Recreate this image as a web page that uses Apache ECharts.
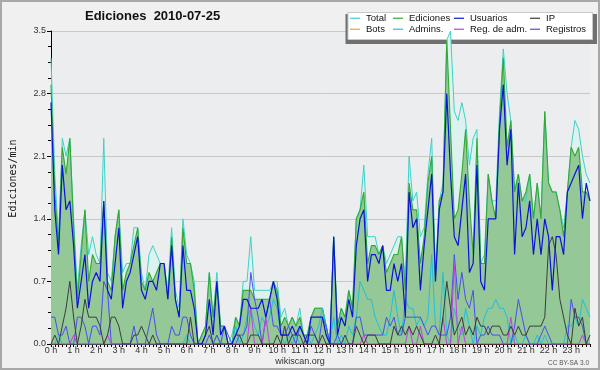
<!DOCTYPE html>
<html>
<head>
<meta charset="utf-8">
<script src="https://cdn.jsdelivr.net/npm/echarts@6/dist/echarts.min.js"></script>
<style>
html,body{margin:0;padding:0;background:#f0f0f0;}
#c{width:600px;height:370px;}
</style>
</head>
<body>
<div id="c"></div>
<script>
// Hour tick labels
const hourLabels = ['0 h','1 h','2 h','3 h','4 h','5 h','6 h','7 h','8 h','9 h','10 h','11 h',
  '12 h','13 h','14 h','15 h','16 h','17 h','18 h','19 h','20 h','21 h','22 h','23 h'];
const yLabels = ['0.0','0.7','1.4','2.1','2.8','3.5'];
// 10-minute slots
const categories = [];
for (let h = 0; h < 24; h++) for (let m = 0; m < 60; m += 10) categories.push(h + ':' + (m < 10 ? '0' + m : m));

const total = [
3.2,1.9,1.2,2.3,2.1,2.3,1.4,0.6,1.1,1.5,
1.0,1.2,1.0,0.9,2.3,0.8,0.7,1.2,1.5,0.8,
0.9,0.9,1.3,1.3,0.8,0.6,1.0,1.1,1.0,0.9,
0.9,0.6,1.3,0.6,0.4,1.4,1.0,0.9,0.7,0.0,
0.1,0.2,0.8,0.3,0.8,0.2,0.2,0.0,0.1,0.3,
0.2,0.7,0.7,1.2,0.6,0.6,0.6,0.6,0.6,0.7,
0.7,0.3,0.4,0.2,0.3,0.2,0.4,0.1,0.1,0.3,
0.4,0.4,0.4,0.2,0.0,1.2,0.2,0.4,0.3,0.6,
0.4,1.4,1.5,2.0,1.2,1.2,1.2,1.0,1.1,0.9,
1.0,1.1,1.2,1.2,0.7,2.1,1.6,1.7,1.2,1.3,
1.9,2.3,0.8,1.6,1.8,3.4,3.5,2.6,2.5,2.7,
2.5,2.0,2.3,2.4,0.9,1.0,1.9,1.6,1.6,2.6,
3.3,2.8,2.5,1.7,1.9,1.6,1.6,1.9,1.4,1.8,
1.4,2.6,1.8,1.7,1.7,1.5,1.3,1.7,2.2,2.5,
2.4,2.1,1.9,1.8];

const ediciones = [
2.9,1.7,1.1,2.2,1.9,2.3,1.3,0.5,1.0,1.5,
0.7,1.0,0.9,0.9,1.6,0.7,0.6,1.2,1.5,0.6,
0.8,0.9,1.1,1.3,0.7,0.6,0.8,0.7,0.8,0.9,
0.9,0.5,1.2,0.5,0.3,1.3,0.9,0.9,0.6,0.0,
0.1,0.2,0.8,0.3,0.7,0.2,0.2,0.0,0.0,0.3,
0.2,0.6,0.6,0.6,0.5,0.5,0.5,0.5,0.5,0.7,
0.6,0.2,0.3,0.2,0.3,0.2,0.3,0.1,0.1,0.3,
0.4,0.4,0.4,0.2,0.0,1.2,0.2,0.4,0.3,0.6,
0.4,1.4,1.5,1.7,0.9,1.1,1.1,1.0,1.1,0.8,
0.9,1.0,1.0,1.2,0.6,1.8,1.5,1.5,0.9,1.2,
1.8,2.1,0.7,1.6,1.7,3.4,2.4,1.4,1.5,1.9,
2.4,1.6,1.0,2.3,0.9,0.9,1.9,1.6,1.4,2.5,
3.2,2.2,2.5,1.7,1.9,1.6,1.7,1.9,1.4,1.8,
1.4,2.6,1.8,1.7,1.7,1.5,1.2,1.7,2.2,2.1,
2.2,1.7,1.7,1.6];

const usuarios = [
2.7,1.5,1.0,2.0,1.5,1.6,1.1,0.4,0.7,1.0,
0.4,0.7,0.8,0.7,1.6,0.6,0.5,0.9,1.3,0.4,
0.7,0.8,1.0,1.2,0.6,0.5,0.7,0.7,0.6,0.9,
0.9,0.5,1.1,0.5,0.3,1.1,0.6,0.6,0.4,0.0,
0.0,0.1,0.5,0.1,0.7,0.1,0.2,0.0,0.0,0.1,
0.2,0.5,0.5,0.4,0.4,0.4,0.5,0.3,0.5,0.7,
0.5,0.1,0.1,0.1,0.2,0.1,0.2,0.1,0.0,0.3,
0.3,0.3,0.3,0.1,0.0,1.2,0.1,0.3,0.2,0.5,
0.3,1.1,1.4,1.5,0.7,1.0,1.0,0.9,1.1,0.6,
0.6,0.9,0.7,0.9,0.3,1.7,1.3,1.4,0.6,1.1,
1.5,1.9,0.7,1.5,1.7,2.8,1.9,1.2,1.1,1.5,
1.9,0.8,0.9,2.0,0.7,0.6,1.4,1.4,1.4,2.4,
2.9,2.0,2.4,1.0,1.8,1.2,1.3,1.6,1.0,1.4,
1.0,1.4,1.2,0.6,1.2,1.2,1.0,1.7,1.8,1.9,
2.0,1.4,1.8,1.6];

const ip = [
0,0.1,0,0.2,0.4,0.7,0.3,0,0.2,0.5,
0.3,0.3,0.3,0.2,0,0.1,0.3,0.3,0.2,0,
0,0,0.1,0.1,0.2,0.1,0,0.1,0,0,
0,0,0,0,0,0,0,0.3,0,0,
0,0.1,0.2,0,0,0,0,0,0,0.1,
0.1,0,0,0.1,0.1,0.1,0,0,0,0,
0.1,0,0.2,0,0.1,0.1,0.1,0,0.1,0.1,
0.1,0,0.1,0,0,0,0,0,0.1,0,
0,0.2,0.1,0,0.1,0.1,0.1,0,0,0,
0,0.2,0.1,0.2,0.1,0.2,0.1,0.2,0.1,0,
0,0,0.1,0,0.3,0.7,0.4,0.1,0.2,0.3,
0.1,0.2,0.1,0.3,0.2,0.2,0.1,0.2,0.2,0.2,
0.1,0.1,0.2,0.1,0.2,0.1,0.1,0.2,0.2,0.2,
0.2,0.3,1.1,1.2,1.0,0.5,0.3,0.1,0.0,0.4,
0.2,0.3,0.0,0.1];

const bots = [
0,0,0,0,0,0,0,0,0,0,0,0,0,0,0,0,0,0,0,0,0,0,0,0,
0,0,0,0,0,0,0,0,0,0,0,0,0,0,0,0,0,0,0,0,0,0,0,0,
0,0,0,0,0,0,0,0,0,0,0,0,0,0,0,0,0,0,0,0,0,0,0,0,
0,0,0,0,0,0,0,0,0,0,0,0,0,0,0,0,0,0,0,0,0,0,0,0,
0,0,0,0,0,0,0,0,0,0,0,0,0,0,0,0,0,0,0,0,0,0,0,0,
0,0,0,0,0,0,0,0,0,0,0,0,0,0,0,0,0,0,0,0,0,0,0,0];

const admins = [
0,0,0.1,0,0,0,0,0,0,0,
0,0,0,0,0,0,0,0,0,0,
0,0,0,0,0,0,0,0,0,0,
0,0,0,0,0,0,0.1,0,0,0,
0,0,0,0,0.1,0,0,0,0,0.2,
0,0.1,0.3,0.4,0.2,0.1,0.3,0.2,0.3,0.5,
0.4,0.1,0,0.1,0,0.1,0,0,0.1,0,
0.1,0.2,0.4,0.2,0,0.3,0,0.1,0,0.2,
0.1,0.3,0.7,0.6,0.5,0.5,0.3,0.2,0.1,0.1,
0.3,0.6,0.3,0.1,0.5,0.4,0.4,0.2,0.3,0.2,
0.3,1.0,0.2,0.1,0.8,0.1,0,0.4,0.2,0.1,
0.4,0.2,0,0.2,0.1,0.3,0.4,0.4,0.5,0.4,
0.4,0.3,0,0.1,0,0,0.1,0,0,0.1,
0,0.1,0,0,0,0,0,0.2,0.2,0.3,
0.2,0.5,0.4,0.3];

const regAdm = [
0,0,0,0,0,0,0.1,0,0,0,
0,0,0,0,0,0.1,0,0,0,0,
0,0,0,0,0,0,0,0,0,0,
0,0,0,0,0,0,0,0,0,0,
0,0,0,0,0,0,0,0,0,0,
0,0,0,0.4,0,0,0,0.3,0,0,
0,0,0,0,0,0,0,0,0,0,
0,0,0,0,0,0,0,0,0,0,
0,0,0,0.1,0,0,0,0,0,0,
0,0,0,0,0,0.2,0,0,0.2,0,
0,0,0,0,0.3,0,0,0.9,0,0.2,
0,0,0,0,0,0,0,0,0,0,
0,0,0.3,0,0,0,0,0,0,0,
0,0,0,0,0,0,0,0,0,0,
0,0.1,0,0];

const registros = [
0.3,0.3,0.1,0.1,0.2,0,0,0.3,0.3,0.2,
0,0.2,0.2,0.1,0.7,0.6,0,0,0,0,
0,0,0.2,0,0,0,0.2,0.4,0.1,0,
0,0,0.2,0.1,0.1,0.3,0.3,0.1,0,0,
0,0,0.1,0,0.1,0,0.2,0.1,0,0,
0.1,0.1,0.2,0.8,0.5,0.3,0,0.3,0.5,0.2,
0.2,0.1,0.1,0.2,0.1,0,0.2,0.1,0,0.2,
0.1,0,0.3,0.2,0,0,0.1,0,0,0,
0,0.3,0.3,0.1,0.1,0.1,0.1,0.1,0.1,0.3,
0.2,0.3,0.1,0.1,0.3,0.3,0.3,0.3,0.3,0.2,
0.1,0.2,0.2,0.1,0.1,0.1,0.3,1.0,0.5,0.8,
0.5,0.4,0.6,0,0.1,0.1,0.2,0.1,0.1,0.1,
0,0,0,0.2,0.5,0.3,0.1,0,0,0,
0.1,0.2,0.1,0,0,0,0,0,0.5,0.3,
0.3,0.2,0,0];

const F = 'Liberation Sans';
const chart = echarts.init(document.getElementById('c'), null, {width:600, height:370, renderer:'canvas'});

function ln(name, data, color, width, area, z) {
  const s = {
    name: name, type: 'line', data: data, symbol: 'none', showSymbol: false,
    lineStyle: {color: color, width: width}, itemStyle: {color: color},
    z: z, animation: false, emphasis: {disabled: true}
  };
  if (area) s.areaStyle = {color: area, opacity: 1};
  return s;
}

const legendBase = {
  orient: 'vertical', padding: 0, itemGap: 0.5, itemWidth: 10, itemHeight: 1.2,
  icon: 'rect', selectedMode: false, top: 13, z: 6,
  textStyle: {fontFamily: F, fontSize: 9.5, color: '#111', lineHeight: 10.5, padding: [0,0,0,1]}
};

chart.setOption({
  animation: false,
  backgroundColor: '#f0f0f0',
  title: {
    text: 'Ediciones  2010-07-25', left: 85, top: 10, padding: 0,
    textStyle: {fontFamily: F, fontWeight: 'bold', fontSize: 13, color: '#111'}
  },
  grid: {left: 46, right: 10, top: 31, bottom: 26, show: true, backgroundColor: '#ecedef', borderWidth: 0},
  legend: [
    Object.assign({}, legendBase, {left: 350, data: ['Total', 'Bots']}),
    Object.assign({}, legendBase, {left: 393, data: ['Ediciones', 'Admins.']}),
    Object.assign({}, legendBase, {left: 454, data: ['Usuarios', 'Reg. de adm.']}),
    Object.assign({}, legendBase, {left: 530, data: ['IP', 'Registros']})
  ],
  xAxis: {
    type: 'category', data: categories, boundaryGap: false,
    axisLine: {lineStyle: {color: '#000', width: 1}},
    axisTick: {interval: 0, length: 3, lineStyle: {color: '#000'}},
    axisLabel: {
      interval: function (i) { return i % 6 === 0; },
      formatter: function (v, i) { return hourLabels[i / 6]; },
      fontFamily: F, fontSize: 9, color: '#333', margin: 2
    },
    splitLine: {show: false}
  },
  yAxis: {
    type: 'value', min: 0, max: 3.5, interval: 0.7,
    name: 'Ediciones/min', nameLocation: 'middle', nameGap: 33, nameRotate: 90,
    nameTextStyle: {fontFamily: 'DejaVu Sans Mono', fontSize: 10, color: '#111', padding: [0,0,0,18]},
    axisLine: {show: true, lineStyle: {color: '#000', width: 1}},
    axisTick: {show: true, length: 4, lineStyle: {color: '#000'}},
    minorTick: {show: true, splitNumber: 4, length: 3, lineStyle: {color: '#000'}},
    axisLabel: {
      formatter: function (v) { return yLabels[Math.round(v / 0.7)]; },
      fontFamily: F, fontSize: 9, color: '#333', margin: 5
    },
    splitLine: {show: true, lineStyle: {color: '#c8c8c8', width: 1}}
  },
  graphic: [
    {type: 'rect', silent: true, z: 1, shape: {x: 345.5, y: 14, width: 251.5, height: 30}, style: {fill: '#707070'}},
    {type: 'rect', silent: true, z: 1, shape: {x: 348, y: 12.5, width: 244.5, height: 27}, style: {fill: '#ffffff', stroke: '#c8c8c8', lineWidth: 1}},
    {type: 'text', silent: true, z: 5, x: 300, y: 362, style: {text: 'wikiscan.org', font: '9px "Liberation Sans"', fill: '#333', textAlign: 'center', textVerticalAlign: 'middle'}},
    {type: 'text', silent: true, z: 5, x: 589, y: 363, style: {text: 'CC BY-SA 3.0', font: '6.5px "Liberation Sans"', fill: '#555', textAlign: 'right', textVerticalAlign: 'middle'}},
    {type: 'rect', silent: true, z: 20, shape: {x: 1, y: 1, width: 598, height: 368}, style: {fill: 'none', stroke: '#a8a8a8', lineWidth: 2}}
  ],
  series: [
    ln('Total', total, '#3cd2c8', 1, '#ddf2ee', 2),
    ln('Ediciones', ediciones, '#33a833', 1.1, '#94c896', 2),
    ln('Bots', bots, '#f0a030', 1, null, 2),
    ln('Admins.', admins, '#20c0d8', 1, null, 2),
    ln('Registros', registros, '#4c4cf0', 1, null, 2),
    ln('Reg. de adm.', regAdm, '#c040e0', 1, null, 2),
    ln('IP', ip, '#3c3c3c', 1, null, 2),
    ln('Usuarios', usuarios, '#0a14d8', 1.2, null, 2)
  ]
});
</script>
</body>
</html>
